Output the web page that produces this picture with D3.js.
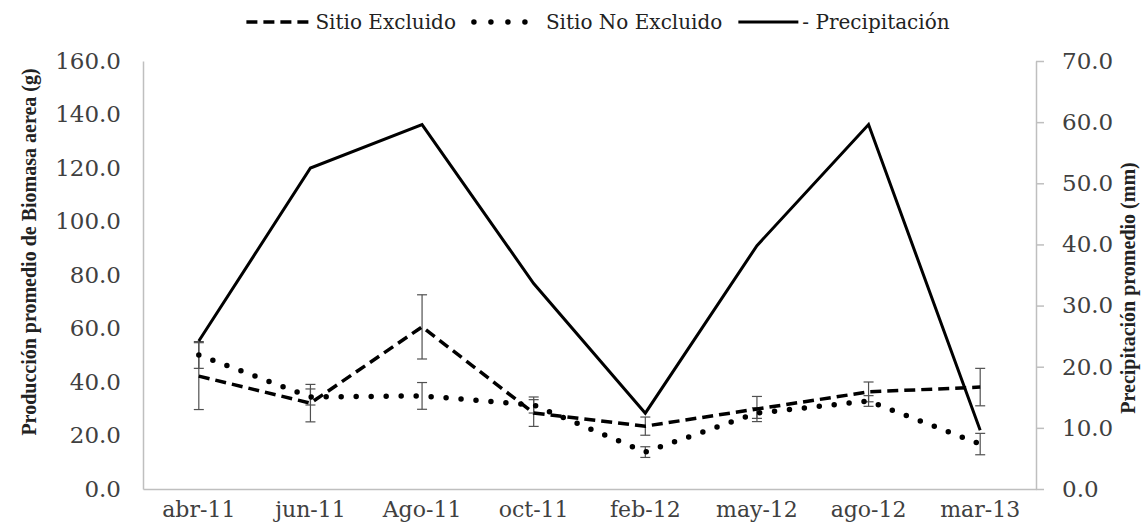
<!DOCTYPE html>
<html>
<head>
<meta charset="utf-8">
<script src="https://cdn.jsdelivr.net/npm/d3@7"></script>
<style>
	body { margin: 0; background: #fff; }
	svg { display: block; }
	svg text { font-family: "DejaVu Serif", serif; }
	svg text.title { font-family: "Liberation Serif", "DejaVu Serif", serif; }
</style>
</head>
<body>
<svg width="1148" height="525"></svg>
<script>
// Data
const categories = ["abr-11", "jun-11", "Ago-11", "oct-11", "feb-12", "may-12", "ago-12", "mar-13"];
const excluido = [42.2, 32.1, 60.6, 28.4, 23.5, 29.9, 36.3, 38.1];
const excluidoErr = [12.5, 7, 12, 5, 3.4, 4.7, 3.7, 7];
const noExcluido = [50.1, 34.4, 34.8, 31.4, 13.8, 28.4, 32.9, 16.8];
const noExcluidoErr = [5, 3, 5, 3, 2, 2, 2, 4];
const precip = [24.2, 52.5, 59.6, 33.6, 12.4, 39.8, 59.6, 9.6];
const leftTicks = [0, 20, 40, 60, 80, 100, 120, 140, 160];
const rightTicks = [0, 10, 20, 30, 40, 50, 60, 70];

// Dimensions
const margin = { top: 61, right: 112, bottom: 36, left: 143 },
	width = 1148 - margin.left - margin.right,
	height = 525 - margin.top - margin.bottom;

const svg = d3.select("svg");
const g = svg.append("g").attr("transform", `translate(${margin.left},${margin.top})`);

// Scales
const x = d3.scaleBand().domain(categories).range([0, width]);
const cx = (d) => x(d) + x.bandwidth() / 2;
const yL = d3.scaleLinear().domain([0, 160]).range([height, 0]);
const yR = d3.scaleLinear().domain([0, 70]).range([height, 0]);

const tickColor = "#404040";
const axisColor = "#bfbfbf";

// Left axis
const leftAxis = g.append("g")
	.call(d3.axisLeft(yL).tickValues(leftTicks).tickSize(0).tickPadding(22).tickFormat(d3.format(".1f")));
leftAxis.attr("font-family", null);
leftAxis.select(".domain").attr("stroke", axisColor).attr("stroke-width", 1.5);
leftAxis.selectAll("text").attr("font-size", 23).attr("fill", tickColor);

// Right axis
const rightAxis = g.append("g")
	.attr("transform", `translate(${width},0)`)
	.call(d3.axisRight(yR).tickValues(rightTicks).tickSize(8).tickSizeOuter(0).tickPadding(18).tickFormat(d3.format(".1f")));
rightAxis.attr("font-family", null);
rightAxis.select(".domain").attr("stroke", axisColor).attr("stroke-width", 1.5);
rightAxis.selectAll("line").attr("stroke", axisColor).attr("stroke-width", 1.5);
rightAxis.selectAll("text").attr("font-size", 23).attr("fill", tickColor);

// Bottom axis
const bottomAxis = g.append("g")
	.attr("transform", `translate(0,${height})`)
	.call(d3.axisBottom(x).tickSize(0).tickPadding(12));
bottomAxis.attr("font-family", null);
bottomAxis.select(".domain").attr("stroke", axisColor).attr("stroke-width", 1.5);
bottomAxis.selectAll("text").attr("font-size", 22).attr("fill", tickColor);

// Axis titles
svg.append("text")
	.attr("class", "title")
	.attr("transform", "translate(36,252) rotate(-90)")
	.attr("text-anchor", "middle")
	.attr("font-size", 20)
	.attr("font-weight", "bold")
	.attr("fill", "#222")
	.text("Producción promedio de Biomasa aerea (g)");

svg.append("text")
	.attr("class", "title")
	.attr("transform", "translate(1135,288) rotate(-90)")
	.attr("text-anchor", "middle")
	.attr("font-size", 20)
	.attr("font-weight", "bold")
	.attr("fill", "#222")
	.text("Precipitación promedio (mm)");

// Error bars
function errorBars(values, errs) {
	const eb = g.append("g").attr("stroke", "#505050").attr("stroke-width", 1.2);
	values.forEach((v, i) => {
		const px = cx(categories[i]);
		eb.append("line").attr("x1", px).attr("x2", px).attr("y1", yL(v - errs[i])).attr("y2", yL(v + errs[i]));
		[v - errs[i], v + errs[i]].forEach((e) => {
			eb.append("line").attr("x1", px - 5).attr("x2", px + 5).attr("y1", yL(e)).attr("y2", yL(e));
		});
	});
}
errorBars(excluido, excluidoErr);
errorBars(noExcluido, noExcluidoErr);

// Lines
const lineL = d3.line().x((d, i) => cx(categories[i])).y((d) => yL(d));
const lineR = d3.line().x((d, i) => cx(categories[i])).y((d) => yR(d));

g.append("path").datum(precip).attr("d", lineR).attr("fill", "none")
	.attr("stroke", "#000").attr("stroke-width", 3);
g.append("path").datum(excluido).attr("d", lineL).attr("fill", "none")
	.attr("stroke", "#000").attr("stroke-width", 3.5).attr("stroke-dasharray", "11,6");
g.append("path").datum(noExcluido).attr("d", lineL).attr("fill", "none")
	.attr("stroke", "#000").attr("stroke-width", 5.5).attr("stroke-linecap", "round").attr("stroke-dasharray", "0,15");

// Legend, laid out left to right then centred
const legendItems = [
	{ label: "Sitio Excluido", dash: "11,6", sw: 3.5, cap: "butt", len: 66, gapBefore: 0, gapAfter: 3 },
	{ label: "Sitio No Excluido", dash: "0,17", sw: 5.5, cap: "round", len: 60, gapBefore: 14, gapAfter: 16 },
	{ label: "- Precipitación", dash: null, sw: 3, cap: "butt", len: 60, gapBefore: 16, gapAfter: 4 }
];
const legend = svg.append("g");
let lx = 0;
legendItems.forEach((it) => {
	lx += it.gapBefore;
	const ln = legend.append("line")
		.attr("x1", lx + (it.cap === "round" ? 4 : 0)).attr("x2", lx + it.len).attr("y1", 0).attr("y2", 0)
		.attr("stroke", "#000").attr("stroke-width", it.sw).attr("stroke-linecap", it.cap);
	if (it.dash) ln.attr("stroke-dasharray", it.dash);
	lx += it.len + it.gapAfter;
	const t = legend.append("text").attr("x", lx).attr("y", 7).attr("font-size", 20).attr("fill", "#222").text(it.label);
	lx += t.node().getComputedTextLength();
});
legend.attr("transform", `translate(${598 - lx / 2},22)`);
</script>
</body>
</html>
